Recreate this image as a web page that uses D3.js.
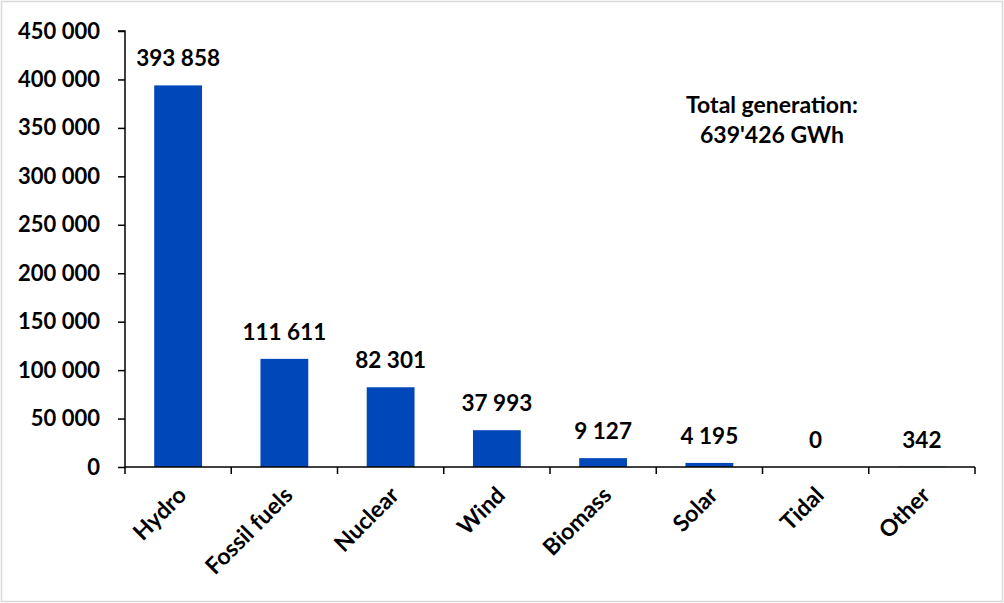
<!DOCTYPE html>
<html><head><meta charset="utf-8">
<script src="https://cdn.jsdelivr.net/npm/d3@7"></script>
<style>
html,body{margin:0;padding:0;background:#fff;}
svg text{font-family:Lato,"Open Sans",sans-serif;font-weight:bold;fill:#000;}
</style></head>
<body>
<svg id="c" width="1004" height="603"></svg>
<script>
const categories = ["Hydro","Fossil fuels","Nuclear","Wind","Biomass","Solar","Tidal","Other"];
const values = [393858,111611,82301,37993,9127,4195,0,342];
const yTicks = [0,50000,100000,150000,200000,250000,300000,350000,400000,450000];
const annotation = ["Total generation:","639'426 GWh"];

(function(){
const svg = d3.select("#c");
svg.append("rect").attr("x",1.5).attr("y",1.5).attr("width",1001).attr("height",600)
  .attr("fill","#fff").attr("stroke","#d9d9d9").attr("stroke-width",1.5);

const mL=125, mR=975, mT=31, mB=467;
const x = d3.scaleBand().domain(categories).range([mL,mR]).paddingInner(0.55).paddingOuter(0.275);
const y = d3.scaleLinear().domain([0,450000]).range([mB,mT]);
const fmt = v => d3.format(",")(v).replace(/,/g," ");

svg.selectAll(".bar").data(values).join("rect")
  .attr("x",(d,i)=>x(categories[i])).attr("width",x.bandwidth())
  .attr("y",d=>y(d)).attr("height",d=>y(0)-y(d)).attr("fill","#0047b9");

const ya = svg.append("g").attr("transform",`translate(${mL},0)`)
  .call(d3.axisLeft(y).tickValues(yTicks).tickFormat(fmt).tickSize(7).tickPadding(18));
ya.selectAll("path,line").attr("stroke","#000").attr("stroke-width",1.5);
ya.select(".domain").attr("d",`M-7,${mT}H0V${mB}`);
ya.selectAll("text").style("font-size","22px");

const step = x.step();
const xg = svg.append("g");
xg.append("line").attr("x1",mL).attr("x2",mR).attr("y1",mB).attr("y2",mB)
  .attr("stroke","#000").attr("stroke-width",1.5);
xg.selectAll(".xt").data(d3.range(categories.length+1)).join("line")
  .attr("x1",i=>mL+i*step).attr("x2",i=>mL+i*step)
  .attr("y1",mB).attr("y2",mB+7).attr("stroke","#000").attr("stroke-width",1.5);
xg.selectAll(".xl").data(categories).join("text")
  .attr("transform",d=>`translate(${x(d)+x.bandwidth()/2+4},${mB+24}) rotate(-45)`)
  .attr("text-anchor","end").attr("dy","0.35em").style("font-size","23px").text(d=>d);

svg.selectAll(".vl").data(values).join("text")
  .attr("x",(d,i)=>x(categories[i])+x.bandwidth()/2).attr("y",d=>y(d)-19)
  .attr("text-anchor","middle").style("font-size","22.5px").text(fmt);

svg.selectAll(".ann").data(annotation).join("text")
  .attr("x",772).attr("y",(d,i)=>113+i*30).attr("text-anchor","middle")
  .style("font-size","23px").text(d=>d);
})();
</script>
</body></html>
